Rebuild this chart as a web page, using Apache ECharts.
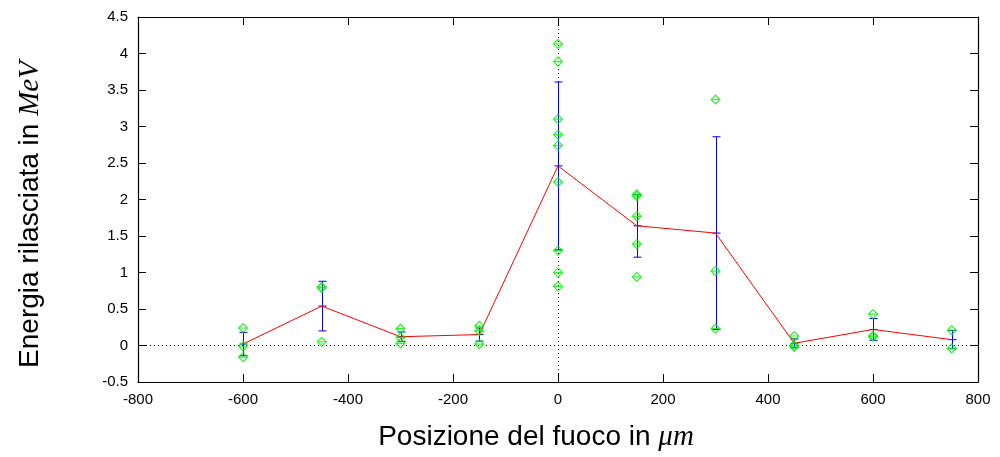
<!DOCTYPE html>
<html><head><meta charset="utf-8">
<script src="https://cdn.jsdelivr.net/npm/echarts@6/dist/echarts.min.js"></script>
<style>html,body{margin:0;padding:0;background:#fff}#c{width:1000px;height:457px}</style>
</head><body><div id="c"></div>
<script>
// Focus positions (µm)
const positions = [-600, -450, -300, -150, 0, 150, 300, 450, 600, 750];
// Mean released energy (MeV)
const means = [0.02, 0.54, 0.12, 0.15, 2.46, 1.64, 1.54, 0.03, 0.22, 0.08];
// Error bar half widths (MeV)
const errors = [0.16, 0.34, 0.065, 0.09, 1.15, 0.43, 1.32, 0.06, 0.15, 0.125];
// Individual measurements at each position
const samples = [
  [0.24, -0.01, -0.16],
  [0.80, 0.79, 0.05],
  [0.23, 0.11, 0.03],
  [0.27, 0.20, 0.02],
  [4.13, 3.89, 3.10, 2.89, 2.74, 2.24, 1.30, 1.00, 0.81],
  [2.07, 2.05, 1.77, 1.39, 0.94],
  [3.37, 1.02, 0.23],
  [0.13, 0.00, -0.02],
  [0.43, 0.13, 0.12],
  [0.21, -0.04]
];
const xAxisRange = { min: -800, max: 800, interval: 200 };
const yAxisRange = { min: -0.5, max: 4.5, interval: 0.5 };

const scatterData = [];
samples.forEach((arr, i) => arr.forEach(v => scatterData.push([positions[i], v])));
const meanData = positions.map((p, i) => [p, means[i]]);
const errData = positions.map((p, i) => [p, means[i], errors[i]]);

const chart = echarts.init(document.getElementById('c'));
const labelFont = { color: '#000', fontSize: 15, fontFamily: 'Liberation Sans, Arial, sans-serif' };
const tickStyle = { show: true, inside: true, length: 8, lineStyle: { color: '#000', width: 1 } };
const axisLineStyle = { show: true, onZero: false, lineStyle: { color: '#000', width: 1.2 } };
const titleRich = {
  m: { fontFamily: 'Liberation Serif, DejaVu Serif, serif', fontStyle: 'italic', fontSize: 29, color: '#000' }
};

chart.setOption({
  animation: false,
  backgroundColor: '#fff',
  grid: { left: 138, right: 22, top: 17, bottom: 75, containLabel: false },
  xAxis: [
    {
      type: 'value', position: 'bottom', ...xAxisRange,
      axisLine: axisLineStyle, axisTick: tickStyle, splitLine: { show: false },
      axisLabel: { ...labelFont, margin: 10 },
      name: 'Posizione del fuoco in {m|μm}', nameLocation: 'middle', nameGap: 41,
      nameTextStyle: { fontSize: 28, color: '#000', fontFamily: 'Liberation Sans, Arial, sans-serif', rich: titleRich, padding: [0, 44, 0, 0] }
    },
    {
      type: 'value', position: 'top', ...xAxisRange,
      axisLine: axisLineStyle, axisTick: tickStyle, splitLine: { show: false },
      axisLabel: { show: false }
    }
  ],
  yAxis: [
    {
      type: 'value', position: 'left', ...yAxisRange,
      axisLine: axisLineStyle, axisTick: tickStyle, splitLine: { show: false },
      axisLabel: { ...labelFont, margin: 10 },
      name: 'Energia rilasciata in {m|MeV}', nameLocation: 'middle', nameGap: 93, nameRotate: 90,
      nameTextStyle: { fontSize: 28, color: '#000', fontFamily: 'Liberation Sans, Arial, sans-serif', rich: titleRich, padding: [0, 30, 0, 0] }
    },
    {
      type: 'value', position: 'right', ...yAxisRange,
      axisLine: axisLineStyle, axisTick: tickStyle, splitLine: { show: false },
      axisLabel: { show: false }
    }
  ],
  series: [
    {
      type: 'custom',
      data: errData,
      encode: { x: 0, y: 1 },
      z: 3,
      renderItem: function (params, api) {
        const x = api.value(0), m = api.value(1), e = api.value(2);
        const t = api.coord([x, m + e]), b = api.coord([x, m - e]), c = api.coord([x, m]);
        const px = Math.round(t[0]) + 0.5;
        const w = 4;
        const style = { stroke: '#0000ff', lineWidth: 1, fill: null };
        return {
          type: 'group',
          children: [
            { type: 'line', shape: { x1: px, y1: t[1], x2: px, y2: b[1] }, style },
            { type: 'line', shape: { x1: px - w, y1: t[1], x2: px + w, y2: t[1] }, style },
            { type: 'line', shape: { x1: px - w, y1: b[1], x2: px + w, y2: b[1] }, style },
            { type: 'line', shape: { x1: px - w, y1: c[1], x2: px + w, y2: c[1] }, style }
          ]
        };
      }
    },
    {
      type: 'line',
      data: meanData,
      showSymbol: false,
      symbol: 'none',
      z: 4,
      lineStyle: { color: '#ff0000', width: 1 },
      markLine: {
        silent: true,
        symbol: ['none', 'none'],
        label: { show: false },
        lineStyle: { color: '#000', type: [1, 3], width: 1 },
        data: [{ yAxis: 0 }, { xAxis: 0 }]
      }
    },
    {
      type: 'scatter',
      data: scatterData,
      z: 5,
      symbol: 'path://M0,-1L1,0L0,1L-1,0ZM-1,0L1,0',
      symbolSize: [9, 9],
      itemStyle: { color: 'rgba(0,0,0,0)', borderColor: '#00f000', borderWidth: 1.2 }
    }
  ]
});
</script>
</body></html>
